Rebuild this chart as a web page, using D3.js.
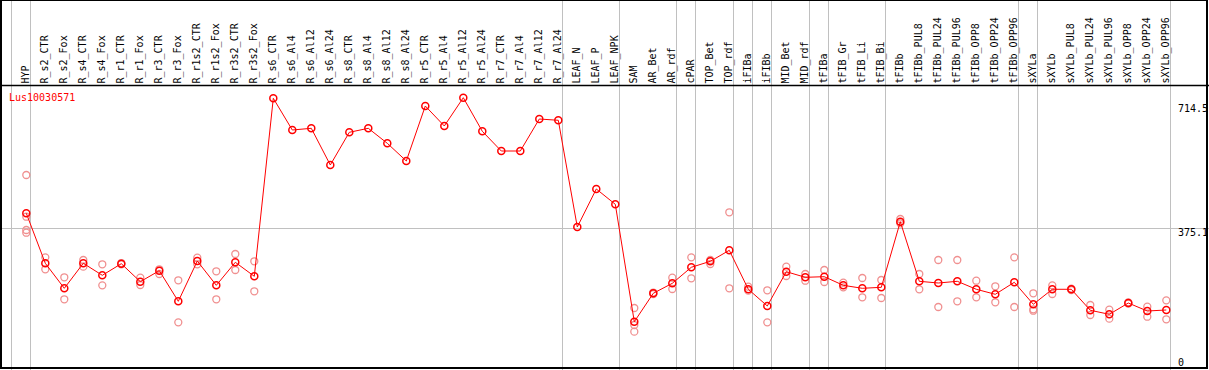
<!DOCTYPE html>
<html>
<head>
<meta charset="utf-8">
<script src="https://cdn.jsdelivr.net/npm/d3@7"></script>
<style>
    body { margin: 0; background: #fff; }
    svg text { font-family: "DejaVu Sans Mono", monospace; font-size: 10px; }
</style>
</head>
<body>
<div id="chart"></div>
<script>
var gene = "Lus10030571";

var samples = ["HYP",
    "R_s2_CTR", "R_s2_Fox", "R_s4_CTR", "R_s4_Fox", "R_r1_CTR", "R_r1_Fox", "R_r3_CTR", "R_r3_Fox",
    "R_r1s2_CTR", "R_r1s2_Fox", "R_r3s2_CTR", "R_r3s2_Fox",
    "R_s6_CTR", "R_s6_Al4", "R_s6_Al12", "R_s6_Al24", "R_s8_CTR", "R_s8_Al4", "R_s8_Al12", "R_s8_Al24",
    "R_r5_CTR", "R_r5_Al4", "R_r5_Al12", "R_r5_Al24", "R_r7_CTR", "R_r7_Al4", "R_r7_Al12", "R_r7_Al24",
    "LEAF_N", "LEAF_P", "LEAF_NPK", "SAM", "AR_Bet", "AR_rdf", "cPAR", "TOP_Bet", "TOP_rdf",
    "iFIBa", "iFIBb", "MID_Bet", "MID_rdf", "tFIBa", "tFIB_Gr", "tFIB_Li", "tFIB_Bi",
    "tFIBb", "tFIBb_PUL8", "tFIBb_PUL24", "tFIBb_PUL96", "tFIBb_OPP8", "tFIBb_OPP24", "tFIBb_OPP96",
    "sXYLa", "sXYLb", "sXYLb_PUL8", "sXYLb_PUL24", "sXYLb_PUL96", "sXYLb_OPP8", "sXYLb_OPP24", "sXYLb_OPP96"];

// last sample of every group, a grey separator goes after each one
var groupEnds = ["HYP", "R_r7_Al24", "LEAF_NPK", "AR_rdf", "cPAR", "TOP_rdf", "iFIBa", "iFIBb",
    "MID_rdf", "tFIBa", "tFIB_Bi", "tFIBb_OPP96", "sXYLa", "sXYLb_OPP96"];

var means = [414.7,
    282.4, 216.2, 282.4, 250.6, 281.3, 233.7, 262.8, 181.8,
    288.4, 224.1, 285.0, 248.0,
    719.0, 635.1, 639.6, 542.5, 629.0, 639.6, 599.9, 553.1,
    698.6, 645.7, 720.6, 631.7, 579.5, 579.5, 664.2, 660.8,
    378.4, 479.0, 438.5, 127.8, 203.0, 229.4, 271.8, 287.6, 316.8,
    213.6, 169.4, 260.1, 245.3, 246.9, 224.1, 216.2, 218.8,
    392.4, 234.7, 230.2, 234.7, 213.6, 200.3, 232.1,
    173.9, 213.6, 213.6, 158.0, 147.4, 177.3, 156.1, 158.8];

var replicates = [[516.0, 405.7, 370.5, 363.3],
    [298.2, 266.5], [245.3, 187.1], [291.1, 273.4], [279.7, 224.1], [283.0, 279.6], [244.2, 224.9], [266.5, 254.0], [237.4, 126.2],
    [297.2, 279.7], [261.2, 187.1], [307.0, 264.6], [287.7, 208.3],
    [], [], [], [], [], [], [], [],
    [], [], [], [], [], [], [], [],
    [], [], [], [164.1, 119.1, 101.4], [205.0, 201.0], [244.2, 214.3], [298.2, 242.7], [291.1, 280.5], [417.3, 216.2],
    [220.4, 209.9], [210.9, 126.2], [273.4, 248.7], [254.0, 236.3], [264.6, 232.9], [231.0, 218.8], [243.5, 192.4], [238.2, 190.5],
    [399.6, 388.2], [254.0, 213.6], [291.1, 166.7], [291.1, 181.8], [236.3, 192.4], [221.5, 179.2], [298.2, 166.7],
    [203.0, 160.6, 156.9], [224.1, 201.1], [215.5, 211.7], [172.0, 145.6], [159.6, 135.8], [179.0, 175.6], [167.5, 141.0], [184.4, 134.2]];

var yTicks = [0, 375.1, 714.5];

var width = 1209, height = 370;
var headerBottom = 85.5;

var svg = d3.select("#chart").append("svg")
    .attr("width", width)
    .attr("height", height);

var x = d3.scaleBand()
    .domain(samples)
    .range([11.8, 11.8 + 19 * samples.length]);

var y = d3.scaleLinear()
    .domain([0, 714.5])
    .range([370, 100]);

function px(d) { return x(d) + 14.5; }

// grey separators between sample groups
svg.append("g")
    .selectAll("line")
    .data([samples[0]].concat(groupEnds))
    .enter().append("line")
    .attr("x1", function(d, i) { return Math.round(i == 0 ? x(d) : x(d) + x.bandwidth()) - 0.5; })
    .attr("x2", function(d, i) { return Math.round(i == 0 ? x(d) : x(d) + x.bandwidth()) - 0.5; })
    .attr("y1", 0)
    .attr("y2", height)
    .attr("stroke", "#c0c0c0")
    .attr("stroke-width", 1);

// horizontal guide at the middle tick
svg.append("line")
    .attr("x1", 0).attr("x2", width)
    .attr("y1", Math.round(y(yTicks[1])) + 0.5)
    .attr("y2", Math.round(y(yTicks[1])) + 0.5)
    .attr("stroke", "#c0c0c0");

// header with rotated sample names
svg.append("g")
    .selectAll("text")
    .data(samples)
    .enter().append("text")
    .attr("transform", function(d) { return "translate(" + (px(d) + 3) + "," + 83.5 + ") rotate(-90)"; })
    .attr("fill", "#000")
    .text(function(d) { return d; });

svg.append("line")
    .attr("x1", 0).attr("x2", width)
    .attr("y1", headerBottom).attr("y2", headerBottom)
    .attr("stroke", "#000")
    .attr("stroke-width", 1.3);

// right hand value labels
svg.append("g")
    .selectAll("text")
    .data(yTicks)
    .enter().append("text")
    .attr("x", 1178)
    .attr("y", function(d, i) {
        if (i == 0) return y(d) - 4;
        if (i == yTicks.length - 1) return y(d) + 11.5;
        return y(d) + 8;
    })
    .attr("fill", "#000")
    .text(function(d) { return d; });

// replicate points
var reps = [];
samples.forEach(function(s, i) {
    replicates[i].forEach(function(v) { reps.push({ sample: s, value: v }); });
});

svg.append("g")
    .selectAll("circle")
    .data(reps)
    .enter().append("circle")
    .attr("cx", function(d) { return px(d.sample); })
    .attr("cy", function(d) { return y(d.value); })
    .attr("r", 3.5)
    .attr("fill", "none")
    .attr("stroke", "#f09090")
    .attr("stroke-width", 1.3);

var line = d3.line()
    .x(function(d, i) { return px(samples[i]); })
    .y(function(d) { return y(d); });

svg.append("path")
    .datum(means)
    .attr("d", line)
    .attr("fill", "none")
    .attr("stroke", "#ff0000")
    .attr("stroke-width", 1);

svg.append("g")
    .selectAll("circle")
    .data(means)
    .enter().append("circle")
    .attr("cx", function(d, i) { return px(samples[i]); })
    .attr("cy", function(d) { return y(d); })
    .attr("r", 3.5)
    .attr("fill", "none")
    .attr("stroke", "#ff0000")
    .attr("stroke-width", 1.5);

svg.append("text")
    .attr("x", 9)
    .attr("y", 101)
    .attr("fill", "#ff0000")
    .text(gene);

// outer frame
svg.append("rect")
    .attr("x", 1).attr("y", 0)
    .attr("width", 1206).attr("height", 368)
    .attr("fill", "none")
    .attr("stroke", "#000")
    .attr("stroke-width", 2);
</script>
</body>
</html>
